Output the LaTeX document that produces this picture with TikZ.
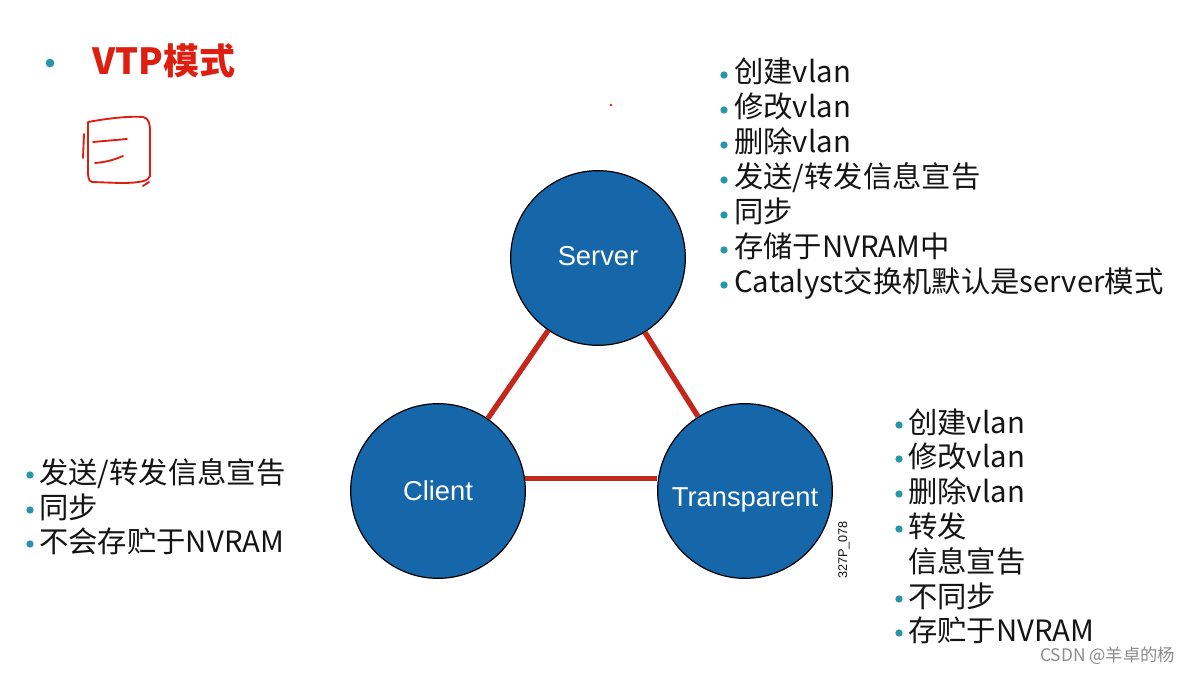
\documentclass[tikz,border=0pt]{standalone}
\usepackage{fontspec}
\setmainfont{Noto Sans CJK SC}
\newfontfamily\arial{Liberation Sans}
\definecolor{circblue}{RGB}{22,102,170}
\definecolor{linkred}{RGB}{196,40,28}
\definecolor{bullteal}{RGB}{38,150,168}
\definecolor{titlered}{RGB}{222,30,16}
\definecolor{txt}{RGB}{20,20,20}
\newcommand{\lowered}[2]{\raisebox{-#1}[0pt][0pt]{#2}}
\tikzset{
  x=0.75pt, y=-0.75pt,
  mode/.style={circle, draw=black, line width=0.9pt, fill=circblue, minimum size=131pt, inner sep=0pt,
    text=white, font=\arial\fontsize{20.5}{24}\selectfont},
  link/.style={draw=linkred, line width=4pt},
  item/.style={anchor=base west, inner sep=0pt, text=txt, font=\fontsize{22}{26}\selectfont},
  bul/.style={circle, fill=bullteal, inner sep=0pt, minimum size=5.5pt},
  pen/.style={draw=titlered, line width=1.4pt, line cap=round, line join=round},
}
\begin{document}
\begin{tikzpicture}
\useasboundingbox (0,0) rectangle (1192,673);
\fill[white] (0,0) rectangle (1192,673);

% title
\node[bul, minimum size=6.5pt] (tb) at (50,63) {};
\node[anchor=base west, inner sep=0pt, text=titlered, font=\bfseries\fontsize{27}{30}\selectfont] (title) at (92,75) {VTP模式};

% hand-drawn box
\draw[pen] (88,122) .. controls (110,118) and (130,116) .. (143,117) .. controls (149,118) and (150,124) .. (150,132)
  -- (150,176) .. controls (149,181) and (140,183) .. (120,183) -- (92,182) .. controls (88,181) and (88,176) .. (88,170) -- (88,122);
\draw[pen] (84,134) -- (83,158);
\draw[pen] (93,142) -- (127,139);
\draw[pen] (95,163) .. controls (108,162) and (116,159) .. (123,156);
\draw[pen] (143,186) -- (149,182);
\fill[titlered] (611,105) circle (1.4);

% circles
\node[mode] (server) at (598,258) {\lowered{5.8pt}{Server}};
\node[mode] (client) at (438,491) {\lowered{7.3pt}{Client}};
\node[mode] (trans) at (745,491) {\lowered{11.8pt}{Transparent}};
\draw[link] (server) -- (client);
\draw[link] (server) -- (trans);
\draw[link] (client.8.6) -- (client.8.6 -| trans.west);

\node[rotate=90, anchor=center, inner sep=0pt, font=\arial\fontsize{9.5}{11}\selectfont, text=txt] (code) at (844,550) {327P\_078};

% server list
\node[bul] (sb1) at (724,75) {};
\node[item] (s1) at (734,83) {创建vlan};
\node[bul] (sb2) at (724,110) {};
\node[item] (s2) at (734,118) {修改vlan};
\node[bul] (sb3) at (724,145) {};
\node[item] (s3) at (734,153) {删除vlan};
\node[bul] (sb4) at (724,180) {};
\node[item] (s4) at (734,188) {发送/转发信息宣告};
\node[bul] (sb5) at (724,215) {};
\node[item] (s5) at (734,223) {同步};
\node[bul] (sb6) at (724,250) {};
\node[item] (s6) at (734,258) {存储于NVRAM中};
\node[bul] (sb7) at (724,285) {};
\node[item] (s7) at (734,293) {Catalyst交换机默认是server模式};

% transparent list
\node[bul] (tb1) at (899,425) {};
\node[item] (t1) at (908,433) {创建vlan};
\node[bul] (tb2) at (899,459) {};
\node[item] (t2) at (908,467) {修改vlan};
\node[bul] (tb3) at (899,494) {};
\node[item] (t3) at (908,502) {删除vlan};
\node[bul] (tb4) at (899,529) {};
\node[item] (t4) at (908,537) {转发};
\node[item] (t5) at (908,572) {信息宣告};
\node[bul] (tb6) at (899,599) {};
\node[item] (t6) at (908,607) {不同步};
\node[bul] (tb7) at (899,633) {};
\node[item] (t7) at (908,641) {存贮于NVRAM};

% client list
\node[bul] (cb1) at (30,475) {};
\node[item] (c1) at (39,483) {发送/转发信息宣告};
\node[bul] (cb2) at (30,510) {};
\node[item] (c2) at (39,518) {同步};
\node[bul] (cb3) at (30,544) {};
\node[item] (c3) at (39,552) {不会存贮于NVRAM};

% watermark
\node[anchor=base west, inner sep=0pt, text=black!45, font=\fontsize{13}{15}\selectfont] (wm) at (1040,661) {CSDN @羊卓的杨};
\end{tikzpicture}
\end{document}
